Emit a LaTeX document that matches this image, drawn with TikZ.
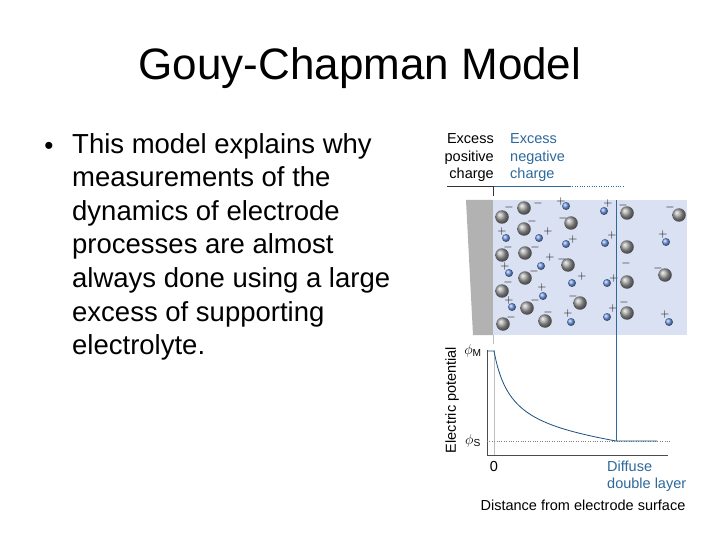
\documentclass[tikz,border=0pt]{standalone}
\usepackage{fontspec}
\setmainfont{Liberation Sans}
\begin{document}
\begin{tikzpicture}[x=1pt,y=-1pt,
 lbl/.style={font=\fontsize{14.5}{17.5}\selectfont,inner sep=0pt},
 bl/.style={text=fblue},
 gball/.style={circle,inner sep=0pt,minimum size=13.5pt,ball color=gray!75,draw=none},
 bball/.style={circle,inner sep=0pt,minimum size=8pt,ball color=ballb,draw=none},
 sg/.style={font=\fontsize{12.5}{12.5}\selectfont,inner sep=0pt}]
\definecolor{fblue}{RGB}{46,105,155}
\definecolor{ballb}{RGB}{110,150,225}
\definecolor{curve}{RGB}{25,80,130}
\definecolor{bgb}{RGB}{218,225,242}
\useasboundingbox (0,0) rectangle (720,540);
\fill[white] (0,0) rectangle (720,540);
\node[font=\fontsize{44}{46}\selectfont] (title) at (360,68) {Gouy-Chapman Model};
\node[font=\fontsize{26}{26}\selectfont,inner sep=0pt] (bul) at (49,148) {•};
\node[font=\fontsize{27.5}{33.6}\selectfont,anchor=north west,align=left,inner sep=0pt] (txt) at (72,133) {This model explains why\\measurements of the\\dynamics of electrode\\processes are almost\\always done using a large\\excess of supporting\\electrolyte.};
% header
\node[lbl,align=right,anchor=east] (pos) at (494,158) {Excess\\positive\\charge};
\node[lbl,bl,align=left,anchor=west] (neg) at (510,158) {Excess\\negative\\charge};
\coordinate (h0) at (447,186); \coordinate (h1) at (493,186); \coordinate (h2) at (570,186); \coordinate (h3) at (625,186);
\draw[black!80,thick] (h0) -- (h1);
\draw[fblue] (h1) -- (h2);
\draw[fblue,dotted] (h2) -- (h3);
\draw[black!80,thick] (493,186) -- (493,196);
% electrode region
\fill[black!30] (466,200) -- (493,200) -- (493,335) -- (473,335) -- cycle;
\fill[bgb] (493,200) rectangle (687,335);
\foreach \x/\y in {502/217,524/208,524/229,571/223,627/213,679/215,502/255,525/253,568/265,627/247,502/291,525/278,580/303,627/282,665/275,527/308,503/324,545/321,627/313}
  \node[gball] at (\x,\y) {};
\foreach \x/\y in {566/206,604/211,506/238,539/238,566/244,605/243,666/242,541/266,509/273,572/283,607/283,543/296,512/307,571/322,607/317,669/322}
  \node[bball] at (\x,\y) {};
\foreach \x/\y in {509/208,538/204,532/222,563/219,623/206,670/208,508/247,535/248,562/259,626/263,658/268,508/282,534/271,573/296,624/302,535/300,511/317,548/312}
  \node[sg] at (\x,\y) {$-$};
\foreach \x/\y in {561/202,608/204,502/231,548/232,573/239,612/236,663/234,550/257,505/266,582/276,614/278,542/287,509/300,568/313,613/308,665/314}
  \node[sg] at (\x,\y) {$+$};
\draw[fblue] (616,200) -- (616,441);
\draw[black!25] (493,335) -- (493,344);
% plot
\draw[black!25,thick] (494,350) -- (494,455);
\draw[black!70] (487,350) -- (487,455) -- (668,455);
\draw[black!50,dotted] (487,441) -- (670,441);
\draw[curve,thick] (487,351) -- (494,351) .. controls (505,410) and (530,425) .. (616,441) -- (657,441);
\node[lbl,rotate=90] (ep) at (452,400) {Electric potential};
\node[lbl] (pm) at (473,351) {$\phi_{\mathrm{M}}$};
\node[lbl] (ps) at (473,441) {$\phi_{\mathrm{S}}$};
\node[lbl] (z) at (494,467) {0};
\node[lbl,bl,align=left,anchor=west] (dl) at (607,476) {Diffuse\\double layer};
\node[lbl] (dist) at (583,505) {Distance from electrode surface};
\end{tikzpicture}
\end{document}
